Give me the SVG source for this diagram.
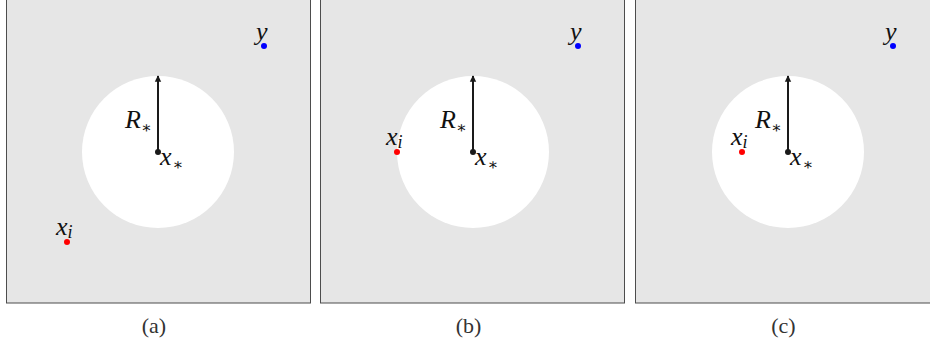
<svg xmlns="http://www.w3.org/2000/svg" width="930" height="347" viewBox="0 0 930 347">
<style>
.panel{fill:#e6e6e6;stroke:#4d4d4d;stroke-width:1}
.disk{fill:#ffffff}
.math{font-family:"Liberation Serif","DejaVu Serif",serif;font-style:italic;font-size:26px;fill:#111}
.star{font-family:"DejaVu Serif",serif;font-size:16px;font-style:normal}
.idx{font-size:18px}
.cap{font-family:"Liberation Serif","DejaVu Serif",serif;font-size:22px;fill:#333;text-anchor:middle}
.radius{stroke:#1a1a1a;stroke-width:2;fill:none;marker-end:url(#ah)}
</style>
<defs>
<marker id="ah" viewBox="0 0 10 10" refX="9" refY="5" markerWidth="3.2" markerHeight="3.6" orient="auto" markerUnits="strokeWidth">
<path d="M0,0 L10,5 L0,10 Z" fill="#1a1a1a"/>
</marker>
</defs>
<g id="panel-a">
<rect class="panel" x="6.5" y="-1" width="304" height="304"/>
<circle class="disk" cx="158" cy="152" r="76"/>
<g id="y-a"><circle cx="264" cy="46" r="3" fill="#0000ff"/><text class="math" x="256" y="40">y</text></g>
<g id="xi-a"><circle cx="67" cy="242" r="3" fill="#ff0000"/><text class="math" x="56" y="235">x<tspan class="idx" dy="3">i</tspan></text></g>
<g id="xs-a"><circle cx="158" cy="152" r="3" fill="#1a1a1a"/><text class="math" x="160" y="165">x<tspan class="star" dx="1" dy="5">∗</tspan></text></g>
<text class="math" x="125" y="128">R<tspan class="star" dy="5">∗</tspan></text>
<text class="cap" x="154" y="333">(a)</text>
</g>
<g id="panel-b">
<rect class="panel" x="320.5" y="-1" width="304" height="304"/>
<circle class="disk" cx="473" cy="152" r="76"/>
<g id="y-b"><circle cx="578" cy="46" r="3" fill="#0000ff"/><text class="math" x="570" y="40">y</text></g>
<g id="xi-b"><circle cx="397" cy="152" r="3" fill="#ff0000"/><text class="math" x="386" y="145">x<tspan class="idx" dy="3">i</tspan></text></g>
<g id="xs-b"><circle cx="473" cy="152" r="3" fill="#1a1a1a"/><text class="math" x="475" y="165">x<tspan class="star" dx="1" dy="5">∗</tspan></text></g>
<text class="math" x="440" y="128">R<tspan class="star" dy="5">∗</tspan></text>
<text class="cap" x="468.5" y="333">(b)</text>
</g>
<g id="panel-c">
<rect class="panel" x="635.5" y="-1" width="304" height="304"/>
<circle class="disk" cx="788" cy="152" r="76"/>
<g id="y-c"><circle cx="893" cy="46" r="3" fill="#0000ff"/><text class="math" x="885" y="40">y</text></g>
<g id="xi-c"><circle cx="742" cy="152" r="3" fill="#ff0000"/><text class="math" x="731" y="145">x<tspan class="idx" dy="3">i</tspan></text></g>
<g id="xs-c"><circle cx="788" cy="152" r="3" fill="#1a1a1a"/><text class="math" x="790" y="165">x<tspan class="star" dx="1" dy="5">∗</tspan></text></g>
<text class="math" x="755" y="128">R<tspan class="star" dy="5">∗</tspan></text>
<text class="cap" x="783.5" y="333">(c)</text>
</g>
<g id="connectors">
<line class="radius" x1="158" y1="152" x2="158" y2="76"/>
<line class="radius" x1="473" y1="152" x2="473" y2="76"/>
<line class="radius" x1="788" y1="152" x2="788" y2="76"/>
</g>
</svg>
